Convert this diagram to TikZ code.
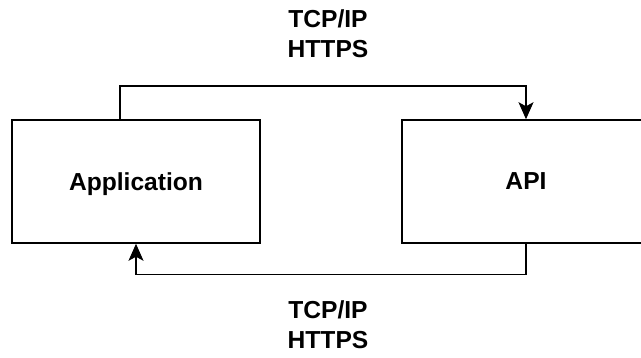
\documentclass[tikz,border=0pt]{standalone}
\usepackage{fontspec}
\setmainfont{Liberation Sans}
\usetikzlibrary{arrows.meta}
\tikzset{
  blockbox/.style={draw=black, line width=1.5pt, fill=white, minimum width=248pt, minimum height=123pt, inner sep=0pt, text depth=0pt, font=\fontsize{24.6pt}{29.5pt}\selectfont\bfseries},
  protolabel/.style={align=center, inner sep=0pt, font=\fontsize{24.6pt}{29.5pt}\selectfont\bfseries},
  link/.style={draw=black, line width=1.5pt, -{Stealth[length=17pt,width=15pt,inset=4pt]}}
}
\begin{document}
\begin{tikzpicture}[x=1pt,y=1pt]
\useasboundingbox (0,0) rectangle (641,-358);
\clip (0,0) rectangle (641,-358);
\node[blockbox] (app) at (136,-181.5) {Application};
\node[blockbox] (api) at (526,-181.5) {API};
\coordinate (appout) at (120,-120);
\draw[link] (appout) -- ++(0,34) -| (api.north);
\draw[link] (api.south) -- ++(0,-31) -| (app.south);
\node[protolabel] (toplabel) at (328,-33.5) {TCP/IP\\HTTPS};
\node[protolabel] (botlabel) at (328,-324.5) {TCP/IP\\HTTPS};
\end{tikzpicture}
\end{document}
